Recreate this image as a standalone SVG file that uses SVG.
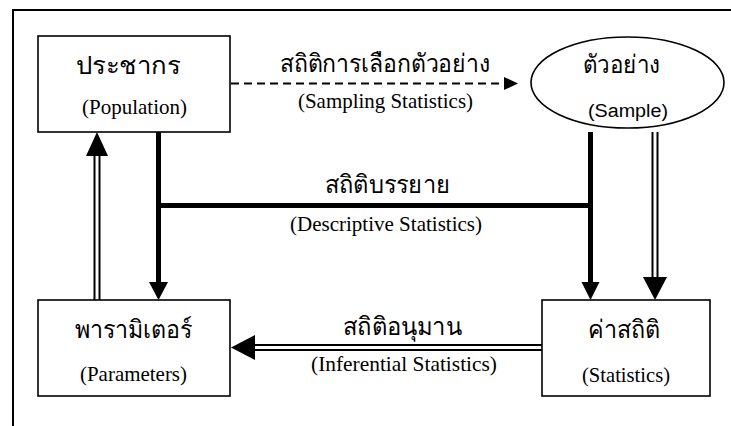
<svg xmlns="http://www.w3.org/2000/svg" width="731" height="426" viewBox="0 0 731 426">
<defs>
<style>
.box{fill:#fff;stroke:#000;stroke-width:1.6}
.th{font-family:"Noto Sans","DejaVu Sans",sans-serif;font-size:25px;font-weight:300;fill:#000;text-anchor:middle}
.en{font-family:"Liberation Serif",serif;font-size:21px;fill:#000;text-anchor:middle}
.ens{font-family:"Liberation Sans",sans-serif;font-size:18px;fill:#000;text-anchor:middle}
.thick{stroke:#000;stroke-width:5;fill:none}
.dbl{stroke:#000;stroke-width:7;fill:none}
.dblin{stroke:#fff;stroke-width:3;fill:none}
.head{fill:#000}
</style>
</defs>
<rect width="731" height="426" fill="#fff"/>
<path d="M13,426 V10 H731" fill="none" stroke="#000" stroke-width="2"/>
<g id="connectors">
<line x1="231" y1="83.5" x2="506" y2="83.5" stroke="#000" stroke-width="2" stroke-dasharray="8,5"/>
<polygon class="head" points="518,83.5 504,77 504,90"/>
<line class="thick" x1="158.5" y1="132" x2="158.5" y2="284"/>
<polygon class="head" points="149,282 168,282 158.5,300"/>
<line class="thick" x1="156" y1="205.5" x2="593" y2="205.5"/>
<line class="thick" x1="590.5" y1="132" x2="590.5" y2="284"/>
<polygon class="head" points="581.5,282 599.5,282 590.5,300"/>
<line class="dbl" x1="655" y1="132" x2="655" y2="280"/>
<line class="dblin" x1="655" y1="132" x2="655" y2="280"/>
<polygon class="head" points="643,277 667,277 655,300"/>
<line class="dbl" x1="97" y1="300" x2="97" y2="154"/>
<line class="dblin" x1="97" y1="300" x2="97" y2="154"/>
<polygon class="head" points="86,156 108,156 97,132"/>
<line class="dbl" x1="542" y1="347.5" x2="253" y2="347.5"/>
<line class="dblin" x1="542" y1="347.5" x2="253" y2="347.5"/>
<polygon class="head" points="255,335 255,360 231,347.5"/>
</g>
<g id="edge-labels">
<text class="th" x="385" y="72" textLength="210" lengthAdjust="spacingAndGlyphs">สถิติการเลือกตัวอย่าง</text>
<text class="en" x="385.5" y="108" textLength="175" lengthAdjust="spacingAndGlyphs">(Sampling Statistics)</text>
<text class="th" x="387.5" y="193" textLength="125" lengthAdjust="spacingAndGlyphs">สถิติบรรยาย</text>
<text class="en" x="386" y="231" textLength="192" lengthAdjust="spacingAndGlyphs">(Descriptive Statistics)</text>
<text class="th" x="402.5" y="335" textLength="119" lengthAdjust="spacingAndGlyphs">สถิติอนุมาน</text>
<text class="en" x="404" y="371" textLength="186" lengthAdjust="spacingAndGlyphs">(Inferential Statistics)</text>
</g>
<g id="population">
<rect class="box" x="38" y="36" width="192" height="96"/>
<text class="th" x="128" y="74" textLength="104" lengthAdjust="spacingAndGlyphs">ประชากร</text>
<text class="en" x="134.5" y="113.5" textLength="105" lengthAdjust="spacingAndGlyphs">(Population)</text>
</g>
<g id="sample">
<ellipse class="box" cx="627.5" cy="82.5" rx="96.5" ry="45.5"/>
<text class="th" x="621.5" y="73" textLength="77" lengthAdjust="spacingAndGlyphs">ตัวอย่าง</text>
<text class="ens" x="628" y="116.5" textLength="80" lengthAdjust="spacingAndGlyphs">(Sample)</text>
</g>
<g id="parameters">
<rect class="box" x="38" y="300" width="192" height="96"/>
<text class="th" x="133.5" y="338" textLength="117" lengthAdjust="spacingAndGlyphs">พารามิเตอร์</text>
<text class="en" x="133.5" y="381" textLength="107" lengthAdjust="spacingAndGlyphs">(Parameters)</text>
</g>
<g id="statistics">
<rect class="box" x="542" y="300" width="168" height="96"/>
<text class="th" x="624" y="338" textLength="72" lengthAdjust="spacingAndGlyphs">ค่าสถิติ</text>
<text class="en" x="626" y="382" textLength="88" lengthAdjust="spacingAndGlyphs">(Statistics)</text>
</g>
</svg>
